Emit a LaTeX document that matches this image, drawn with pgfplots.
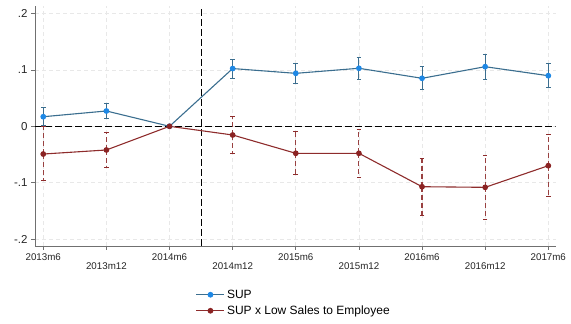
\documentclass[border=0pt]{standalone}
\usepackage{pgfplots}
\usepackage{pgfplotstable}
\pgfplotsset{compat=1.18}
\usepackage{fontspec}
\setmainfont{Liberation Sans}
\definecolor{supline}{HTML}{3B6E8F}
\definecolor{supmark}{HTML}{1E88E5}
\definecolor{redline}{HTML}{8E2C2C}
\definecolor{redmark}{HTML}{8B2323}
\definecolor{axgray}{HTML}{707070}

\pgfplotstableread{
x y ep em
0 0.0170 0.0167 0.0160
1 0.0272 0.0141 0.0137
2 0.0000 0.0000 0.0000
3 0.1025 0.0161 0.0170
4 0.0940 0.0166 0.0177
5 0.1030 0.0194 0.0196
6 0.0852 0.0218 0.0195
7 0.1058 0.0225 0.0224
8 0.0898 0.0208 0.0206
}\supdata

\pgfplotstableread{
x y ep em
0 -0.0492 0.0487 0.0478
1 -0.0420 0.0306 0.0308
2 0.0000 0.0000 0.0000
3 -0.0154 0.0331 0.0325
4 -0.0479 0.0383 0.0385
5 -0.0479 0.0431 0.0433
6 -0.1072 0.0504 0.0515
7 -0.1083 0.0561 0.0562
8 -0.0699 0.0557 0.0550
}\lowdata

\begin{document}
\begin{tikzpicture}
\useasboundingbox (0,0) rectangle (571pt,324pt);
\begin{axis}[
  at={(35pt,78pt)}, anchor=south west,
  scale only axis, width=520.5pt, height=240pt,
  xmin=-0.131, xmax=8.114, ymin=-0.2124, ymax=0.2135,
  axis x line*=bottom, axis y line*=left,
  axis line style={axgray, line width=0.8pt, -},
  tick align=outside, major tick length=4pt,
  tick style={axgray, line width=0.8pt},
  xtick={0,2,4,6,8},
  xticklabels={2013m6,2014m6,2015m6,2016m6,2017m6},
  extra x ticks={1,3,5,7},
  extra x tick labels={2013m12,2014m12,2015m12,2016m12},
  extra x tick style={grid=major, tick label style={yshift=-9.6pt}},
  x tick label style={font=\fontsize{9.75}{10}\selectfont, text=black!85},
  ytick={-0.2,-0.1,0,0.1,0.2},
  yticklabels={-.2,-.1,0,.1,.2},
  y tick label style={font=\fontsize{11.5}{12}\selectfont, text=black!85},
  grid=major,
  major grid style={gray!18, line width=0.7pt, dash pattern=on 4pt off 3pt},
  legend style={at={(0.303,-0.165)}, anchor=north west, draw=none, fill=none,
    font=\fontsize{12}{14}\selectfont, row sep=2pt, cells={anchor=west}},
  legend image code/.code={\draw[mark repeat=2,mark phase=2] plot coordinates {(0pt,0pt)(14pt,0pt)(28pt,0pt)};},
]
\addplot[forget plot, black, line width=1.5pt, dash pattern=on 7pt off 3pt] coordinates {(-0.131,0)(8.114,0)};
\addplot[forget plot, black, line width=1.1pt, dash pattern=on 7pt off 3pt] coordinates {(2.5,-0.2124)(2.5,0.2135)};
\addplot[color=supline, line width=1.1pt, mark=*, mark size=2.3pt,
  mark options={fill=supmark, draw=supmark},
  error bars/.cd, y dir=both, y explicit,
  error bar style={line width=1pt, color=supline},
  error mark options={rotate=90, mark size=2.3pt, line width=1pt, color=supline}]
  table[x=x, y=y, y error plus=ep, y error minus=em] {\supdata};
\addlegendentry{SUP}
\addplot[color=redline, line width=1.1pt, mark=*, mark size=2.3pt,
  mark options={fill=redmark, draw=redmark, solid},
  error bars/.cd, y dir=both, y explicit,
  error bar style={line width=1.1pt, color=redline!90!white, dash pattern=on 5pt off 3pt},
  error mark options={rotate=90, mark size=2.3pt, line width=1pt, color=redline, solid}]
  table[x=x, y=y, y error plus=ep, y error minus=em] {\lowdata};
\addlegendentry{SUP x Low Sales to Employee}
\end{axis}
\end{tikzpicture}
\end{document}
